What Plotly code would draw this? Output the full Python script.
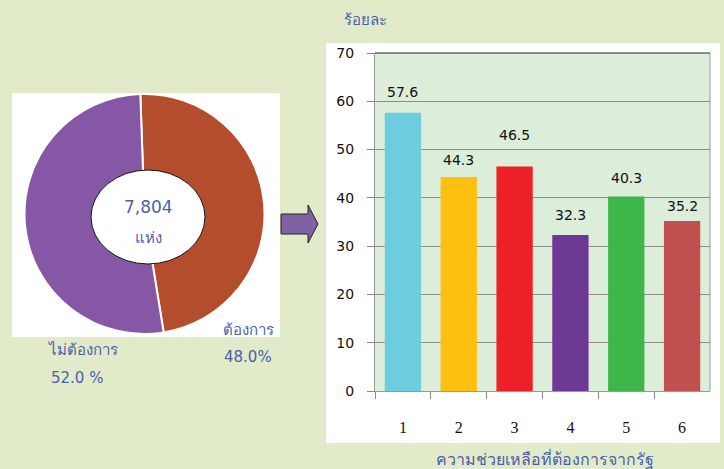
import plotly.graph_objects as go

W, H = 724, 469

# ---- data ----
pie_labels = ["ต้องการ", "ไม่ต้องการ"]
pie_values = [48.0, 52.0]
pie_colors = ["#B44C2E", "#8657A5"]
total_text = "7,804"
total_unit = "แห่ง"

categories = ["1", "2", "3", "4", "5", "6"]
values = [57.6, 44.3, 46.5, 32.3, 40.3, 35.2]
bar_colors = ["#6DCCDD", "#FEC010", "#EE2027", "#6E3895", "#3EB64A", "#C0504D"]
label_offsets = [21, 17, 31, 20, 18, 15]

y_title = "ร้อยละ"
x_title = "ความช่วยเหลือที่ต้องการจากรัฐ"

BLUE = "#4A5EAE"
PAGE_BG = "#E2EBC9"
PLOT_BG = "#DCEDD9"


def px(x):
    return x / W


def py(y):
    return 1 - y / H


fig = go.Figure()

# pie
cx, cy, r = 144.5, 214, 120
fig.add_trace(go.Pie(
    labels=pie_labels, values=pie_values, sort=False, direction="clockwise",
    rotation=-2, marker=dict(colors=pie_colors, line=dict(color="white", width=2)),
    textinfo="none", hoverinfo="skip", showlegend=False, automargin=False,
    domain=dict(x=[px(cx - r), px(cx + r)], y=[py(cy + r), py(cy - r)]),
))

# bars
fig.add_trace(go.Bar(
    x=categories, y=values, marker=dict(color=bar_colors, line=dict(width=0)),
    width=0.65, showlegend=False, hoverinfo="skip",
))

annotations = []
for i, (v, off) in enumerate(zip(values, label_offsets)):
    annotations.append(dict(
        x=i, y=v, xref="x", yref="y", text=f"{v:.1f}", showarrow=False,
        yanchor="middle", yshift=off,
        font=dict(family="DejaVu Sans", size=14, color="#111111"),
    ))

# pie texts
annotations += [
    dict(x=px(148), y=py(207), xref="paper", yref="paper", text=total_text, showarrow=False,
         font=dict(family="DejaVu Sans", size=17, color=BLUE), xanchor="center", yanchor="middle"),
    dict(x=px(148), y=py(238), xref="paper", yref="paper", text=total_unit, showarrow=False,
         font=dict(family="DejaVu Sans", size=15, color=BLUE), xanchor="center", yanchor="middle"),
    dict(x=px(221), y=py(330), xref="paper", yref="paper", text=pie_labels[0], showarrow=False,
         font=dict(family="DejaVu Sans", size=15, color=BLUE), xanchor="left", yanchor="middle"),
    dict(x=px(222), y=py(357), xref="paper", yref="paper", text=f"{pie_values[0]:.1f}%", showarrow=False,
         font=dict(family="DejaVu Sans", size=15, color=BLUE), xanchor="left", yanchor="middle"),
    dict(x=px(46), y=py(350), xref="paper", yref="paper", text=pie_labels[1], showarrow=False,
         font=dict(family="DejaVu Sans", size=15, color=BLUE), xanchor="left", yanchor="middle"),
    dict(x=px(49), y=py(378), xref="paper", yref="paper", text=f"{pie_values[1]:.1f} %", showarrow=False,
         font=dict(family="DejaVu Sans", size=15, color=BLUE), xanchor="left", yanchor="middle"),
    dict(x=px(342), y=py(20), xref="paper", yref="paper", text=y_title, showarrow=False,
         font=dict(family="DejaVu Sans", size=15, color=BLUE), xanchor="left", yanchor="middle"),
    dict(x=px(545), y=py(458), xref="paper", yref="paper", text=x_title, showarrow=False,
         font=dict(family="DejaVu Sans", size=16, color=BLUE), xanchor="center", yanchor="middle"),
]

shapes = [
    dict(type="rect", xref="paper", yref="paper", x0=px(12), x1=px(280), y0=py(337), y1=py(93),
         fillcolor="white", line=dict(width=0), layer="below"),
    dict(type="rect", xref="paper", yref="paper", x0=px(326), x1=px(720), y0=py(443), y1=py(43),
         fillcolor="white", line=dict(width=0), layer="below"),
    dict(type="rect", xref="x domain", yref="y domain", x0=0, x1=1, y0=0, y1=1,
         fillcolor=PLOT_BG, line=dict(width=0), layer="below"),
    dict(type="line", xref="x domain", yref="y domain", x0=0, x1=1, y0=1, y1=1,
         line=dict(color="#222222", width=1.2), layer="above"),
    dict(type="line", xref="x domain", yref="y domain", x0=1, x1=1, y0=0, y1=1,
         line=dict(color="#999999", width=1), layer="above"),
    dict(type="circle", xref="paper", yref="paper", x0=px(91), x1=px(205), y0=py(264), y1=py(170),
         fillcolor="white", line=dict(color="#111111", width=1), layer="above"),
    dict(type="path", xref="paper", yref="paper",
         path=(f"M {px(281)},{py(214)} L {px(308)},{py(214)} L {px(308)},{py(205)} "
               f"L {px(318)},{py(224)} L {px(308)},{py(243)} L {px(308)},{py(234)} "
               f"L {px(281)},{py(234)} Z"),
         fillcolor="#7F62A1", line=dict(color="#222222", width=1), layer="above"),
]

fig.update_layout(
    width=W, height=H, margin=dict(l=0, r=0, t=0, b=0, autoexpand=False),
    paper_bgcolor=PAGE_BG, plot_bgcolor="rgba(0,0,0,0)",
    annotations=annotations, shapes=shapes, bargap=0.35,
    xaxis=dict(domain=[px(375), px(710)], type="category", range=[-0.5, 5.5],
               tickson="boundaries", automargin=False,
               ticks="outside", ticklen=7, tickcolor="#888888", showline=True,
               linecolor="#999999", linewidth=1, showgrid=False,
               tickfont=dict(family="Liberation Serif", size=16, color="#111111"),
               ticklabelstandoff=22),
    yaxis=dict(domain=[py(391), py(53)], range=[0, 70], dtick=10, ticks="outside",
               automargin=False,
               ticklen=7, tickcolor="#888888", showline=True, linecolor="#999999",
               gridcolor="#8C8C8C", gridwidth=1, zeroline=False,
               tickfont=dict(family="DejaVu Sans", size=14, color="#111111"),
               ticklabelstandoff=10),
)

fig.write_html("out.html", config={"displayModeBar": False},
               post_script="document.body.style.margin='0';document.body.style.overflow='hidden';")
